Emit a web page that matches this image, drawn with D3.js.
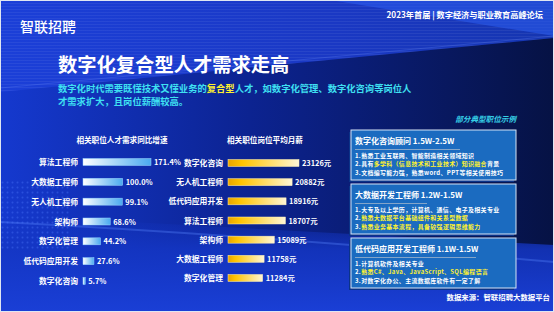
<!DOCTYPE html>
<html>
<head>
<meta charset="utf-8">
<script src="https://cdn.jsdelivr.net/npm/d3@7"></script>
<style>
  body { margin: 0; background: #06123f; }
  svg { display: block; font-family: "Noto Sans CJK SC", "Noto Sans", sans-serif; }
</style>
</head>
<body>
<svg id="chart" width="554" height="312"></svg>
<script>
"use strict";

// left chart: talent demand YoY growth (%)
const growthCats = ["算法工程师", "大数据工程师", "无人机工程师", "架构师", "数字化管理", "低代码应用开发", "数字化咨询"];
const growthVals = [171.4, 100.0, 99.1, 68.6, 44.2, 27.6, 5.7];

// right chart: average monthly salary (元)
const salaryCats = ["数字化咨询", "无人机工程师", "低代码应用开发", "算法工程师", "架构师", "大数据工程师", "数字化管理"];
const salaryVals = [23126, 20882, 18916, 18707, 15089, 11758, 11284];

// example job cards: [text, highlighted?] segments per line
const jobTitles = ["数字化咨询顾问  1.5W-2.5W", "大数据开发工程师 1.2W-1.5W", "低代码应用开发工程师 1.1W-1.5W"];
const jobLines = [
  [
    [["1.熟悉工业互联网、智能制造相关领域知识", false]],
    [["2.具有", false], ["多学科（信息技术和工业技术）知识融合", true], ["背景", false]],
    [["3.文档编写能力强，熟悉word、PPT等相关使用技巧", false]],
  ],
  [
    [["1.大专及以上学历，计算机、通信、电子及相关专业", false]],
    [["2.", false], ["熟悉大数据平台基础组件和关系型数据", true]],
    [["3.", false], ["熟悉业务基本流程，具备较强逻辑思维能力", true]],
  ],
  [
    [["1.计算机软件及相关专业", false]],
    [["2.", false], ["熟悉C#、Java、JavaScript、SQL编程语言", true]],
    [["3.对数字化办公、主流数据库软件有一定了解", false]],
  ],
];

const svg = d3.select("#chart");
const W = 554, H = 312;
const defs = svg.append("defs");

// ---------- background ----------
const bgGrad = defs.append("linearGradient").attr("id", "bg").attr("x1", 0).attr("x2", 1).attr("y1", 0).attr("y2", 0);
bgGrad.append("stop").attr("offset", "0%").attr("stop-color", "#1539cf");
bgGrad.append("stop").attr("offset", "45%").attr("stop-color", "#0c2391");
bgGrad.append("stop").attr("offset", "100%").attr("stop-color", "#061244");

const bottomGrad = defs.append("linearGradient").attr("id", "bgBottom").attr("x1", 0).attr("x2", 0).attr("y1", 0).attr("y2", 1);
bottomGrad.append("stop").attr("offset", "0%").attr("stop-color", "#1436c4").attr("stop-opacity", 0.0);
bottomGrad.append("stop").attr("offset", "35%").attr("stop-color", "#1436c4").attr("stop-opacity", 0.85);
bottomGrad.append("stop").attr("offset", "100%").attr("stop-color", "#1a3fd6").attr("stop-opacity", 1);

const topGrad = defs.append("linearGradient").attr("id", "bgTop").attr("x1", 0).attr("x2", 1).attr("y1", 0).attr("y2", 0);
topGrad.append("stop").attr("offset", "0%").attr("stop-color", "#1b3fd8");
topGrad.append("stop").attr("offset", "60%").attr("stop-color", "#1a38c4");
topGrad.append("stop").attr("offset", "100%").attr("stop-color", "#1535b0");

const stripes = defs.append("pattern").attr("id", "stripes").attr("width", 4).attr("height", 3).attr("patternUnits", "userSpaceOnUse");
stripes.append("rect").attr("width", 4).attr("height", 1).attr("fill", "#ffffff").attr("opacity", 0.06);

const dots = defs.append("pattern").attr("id", "dots").attr("width", 5).attr("height", 5).attr("patternUnits", "userSpaceOnUse");
dots.append("circle").attr("cx", 2.5).attr("cy", 2.5).attr("r", 1).attr("fill", "#4f7cff").attr("opacity", 0.35);

svg.append("rect").attr("width", W).attr("height", H).attr("fill", "url(#bg)");
svg.append("path").attr("d", `M0,0H${W}V38L0,92Z`).attr("fill", "url(#bgTop)");
svg.append("path").attr("d", `M0,0H${W}V38L0,92Z`).attr("fill", "url(#stripes)");
svg.append("path").attr("d", `M330,0H${W}V36Z`).attr("fill", "#2c5cf0").attr("opacity", 0.55);
svg.append("path").attr("d", `M0,88L${W},36`).attr("stroke", "#6a8cff").attr("stroke-width", 1).attr("opacity", 0.25);
svg.append("path").attr("d", `M0,215L${W},245V${H}H0Z`).attr("fill", "url(#bgBottom)");
svg.append("path").attr("d", `M0,222Q250,235 ${W},262`).attr("stroke", "#5a86ff").attr("stroke-width", 2).attr("fill", "none").attr("opacity", 0.35);
svg.append("rect").attr("x", 0).attr("y", 180).attr("width", 70).attr("height", 70).attr("fill", "url(#dots)");
svg.append("rect").attr("x", 0.5).attr("y", 0.5).attr("width", W - 1).attr("height", H - 1)
  .attr("fill", "none").attr("stroke", "#dfe6f2").attr("stroke-width", 1);

// ---------- header ----------
svg.append("text").attr("x", 20).attr("y", 32).attr("fill", "#fff")
  .attr("font-size", 14).attr("font-weight", 500).text("智联招聘");
svg.append("text").attr("x", 543).attr("y", 18).attr("text-anchor", "end").attr("fill", "#fff")
  .attr("font-size", 8.2).attr("font-weight", 700).text("2023年首届 | 数字经济与职业教育高峰论坛");

svg.append("text").attr("x", 58).attr("y", 72).attr("fill", "#fff")
  .attr("font-size", 19.3).attr("font-weight", 700).text("数字化复合型人才需求走高");

const sub = svg.append("text").attr("x", 58).attr("y", 91.5).attr("fill", "#3fe0f2")
  .attr("font-size", 9.3).attr("font-weight", 700);
sub.append("tspan").text("数字化时代需要既懂技术又懂业务的");
sub.append("tspan").attr("fill", "#fff22e").text("复合型");
sub.append("tspan").text("人才，如数字化管理、数字化咨询等岗位人");
svg.append("text").attr("x", 58).attr("y", 105).attr("fill", "#3fe0f2")
  .attr("font-size", 9.3).attr("font-weight", 700).text("才需求扩大，且岗位薪酬较高。");

// ---------- left bar chart ----------
const gGrad = defs.append("linearGradient").attr("id", "blueBar");
gGrad.append("stop").attr("offset", "0%").attr("stop-color", "#ffffff");
gGrad.append("stop").attr("offset", "100%").attr("stop-color", "#4aaaf0");

const xL = d3.scaleLinear().domain([0, d3.max(growthVals)]).range([0, 68]);
const yL = d3.scalePoint().domain(growthCats).range([162, 281]);
const left = svg.append("g").attr("transform", "translate(83,0)");

svg.append("text").attr("x", 122).attr("y", 143).attr("text-anchor", "middle").attr("fill", "#fff")
  .attr("font-size", 7.6).attr("font-weight", 700).text("相关职位人才需求同比增速");

const leftRows = left.selectAll("g.row").data(growthCats).join("g").attr("class", "row");
leftRows.append("rect")
  .attr("x", 0).attr("y", (d) => yL(d) - 3.5)
  .attr("width", (d, i) => xL(growthVals[i])).attr("height", 7)
  .attr("fill", "url(#blueBar)").attr("stroke", "#9ad6ff").attr("stroke-width", 0.5);
leftRows.append("text")
  .attr("x", -5).attr("y", (d) => yL(d) + 3).attr("text-anchor", "end").attr("fill", "#fff")
  .attr("font-size", 7.8).attr("font-weight", 700).text((d) => d);
leftRows.append("text")
  .attr("x", (d, i) => xL(growthVals[i]) + 3).attr("y", (d) => yL(d) + 3).attr("fill", "#fff")
  .attr("font-size", 7.4).attr("font-weight", 700).text((d, i) => growthVals[i].toFixed(1) + "%");

// ---------- right bar chart ----------
const sGrad = defs.append("linearGradient").attr("id", "goldBar");
sGrad.append("stop").attr("offset", "0%").attr("stop-color", "#e9a400");
sGrad.append("stop").attr("offset", "20%").attr("stop-color", "#ffc400");
sGrad.append("stop").attr("offset", "100%").attr("stop-color", "#fff6d6");

const xR = d3.scaleLinear().domain([0, d3.max(salaryVals)]).range([0, 71]);
const yR = d3.scalePoint().domain(salaryCats).range([163, 278]);
const right = svg.append("g").attr("transform", "translate(228,0)");

svg.append("text").attr("x", 265).attr("y", 143).attr("text-anchor", "middle").attr("fill", "#fff")
  .attr("font-size", 7.6).attr("font-weight", 700).text("相关职位岗位平均月薪");

const rightRows = right.selectAll("g.row").data(salaryCats).join("g").attr("class", "row");
rightRows.append("rect")
  .attr("x", 0).attr("y", (d) => yR(d) - 3.5)
  .attr("width", (d, i) => xR(salaryVals[i])).attr("height", 7)
  .attr("fill", "url(#goldBar)").attr("stroke", "#fff1b8").attr("stroke-width", 0.5);
rightRows.append("text")
  .attr("x", -5).attr("y", (d) => yR(d) + 3).attr("text-anchor", "end").attr("fill", "#fff")
  .attr("font-size", 7.8).attr("font-weight", 700).text((d) => d);
rightRows.append("text")
  .attr("x", (d, i) => xR(salaryVals[i]) + 3).attr("y", (d) => yR(d) + 3).attr("fill", "#fff")
  .attr("font-size", 7.4).attr("font-weight", 700).text((d, i) => salaryVals[i] + "元");

// ---------- job cards ----------
svg.append("text").attr("x", 516).attr("y", 122).attr("text-anchor", "end").attr("fill", "#36cfe6")
  .attr("font-size", 7.6).attr("font-weight", 700).attr("font-style", "italic").text("部分典型职位示例");

const cardTop = d3.scalePoint().domain(d3.range(jobTitles.length)).range([130, 238]);
const underline = [105, 72, 121];

jobTitles.forEach((title, i) => {
  const g = svg.append("g").attr("transform", `translate(351,${cardTop(i)})`);
  g.append("rect").attr("x", -2).attr("y", 2).attr("width", 165).attr("height", 50).attr("fill", "#0a3388");
  g.append("rect").attr("width", 165).attr("height", 50).attr("fill", "#1b6bc0")
    .attr("stroke", "#d6e4f6").attr("stroke-width", 1);
  g.append("text").attr("x", 4).attr("y", 14).attr("fill", "#fff")
    .attr("font-size", 8).attr("font-weight", 700).text(title);
  g.append("line").attr("x1", 4).attr("x2", 4 + underline[i]).attr("y1", 19.5).attr("y2", 19.5)
    .attr("stroke", "#9fb4cc").attr("stroke-width", 0.8);
  jobLines[i].forEach((segs, j) => {
    const t = g.append("text").attr("x", 4).attr("y", 27.5 + j * 8.7)
      .attr("font-size", 5.95).attr("letter-spacing", 0.35).attr("font-weight", 700).attr("fill", "#fff");
    segs.forEach(([s, hi]) => t.append("tspan").attr("fill", hi ? "#fff230" : "#fff").text(s));
  });
});

svg.append("text").attr("x", 550).attr("y", 300).attr("text-anchor", "end").attr("fill", "#fff")
  .attr("font-size", 7.4).attr("font-weight", 700).text("数据来源：智联招聘大数据平台");
</script>
</body>
</html>
